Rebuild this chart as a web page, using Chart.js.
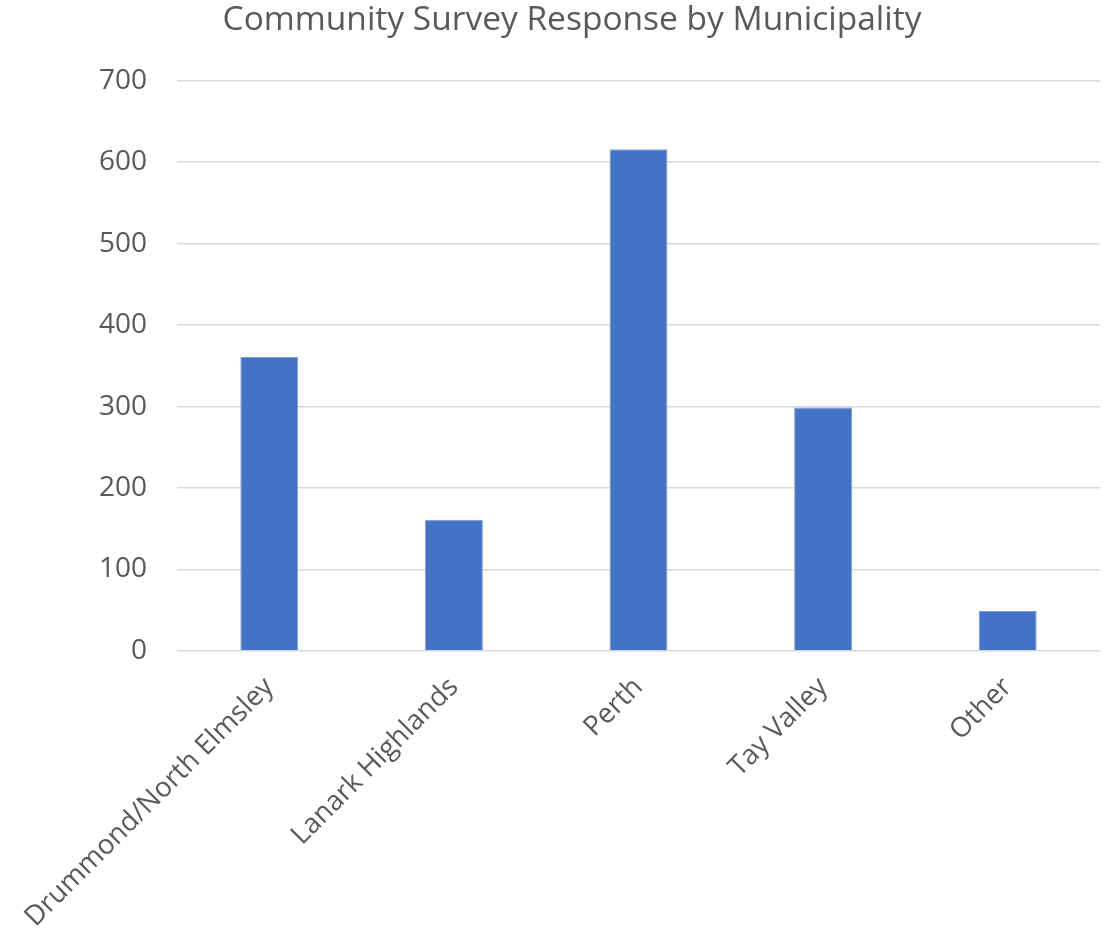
<!DOCTYPE html>
<html>
<head>
<meta charset="utf-8">
<script src="https://cdn.jsdelivr.net/npm/chart.js@4"></script>
<style>
  html, body { margin: 0; padding: 0; background: #fff; }
  #wrap { width: 1107px; height: 935px; }
</style>
</head>
<body>
<div id="wrap"><canvas id="chart"></canvas></div>
<script>
const municipalities = ['Drummond/North Elmsley', 'Lanark Highlands', 'Perth', 'Tay Valley', 'Other'];
const responses = [361, 161, 616, 299, 49];
const titleText = 'Community Survey Response by Municipality';

const textColor = '#595959';
const fontFamily = "'Open Sans', 'Noto Sans', sans-serif";

new Chart(document.getElementById('chart'), {
  type: 'bar',
  data: {
    labels: municipalities,
    datasets: [{
      label: 'Responses',
      data: responses,
      backgroundColor: '#4472c4',
      borderColor: '#7f9fd8',
      borderWidth: 1,
      categoryPercentage: 1,
      barPercentage: 0.314
    }]
  },
  options: {
    responsive: true,
    maintainAspectRatio: false,
    animation: false,
    // left padding shifts the title centre to match; y axis width compensates
    layout: { padding: { left: 44, right: 7, top: 0, bottom: 0 } },
    plugins: {
      legend: { display: false },
      tooltip: { enabled: false },
      title: {
        display: true,
        text: titleText,
        color: textColor,
        font: { family: fontFamily, size: 33.5, weight: 'normal' },
        padding: { top: 0, bottom: 40.5 }
      }
    },
    scales: {
      x: {
        grid: { display: false },
        border: { display: false },
        ticks: {
          color: textColor,
          font: { family: fontFamily, size: 27.5 },
          maxRotation: 45,
          minRotation: 45,
          padding: 12
        },
        afterFit: (scale) => { scale.height = 284; }
      },
      y: {
        min: 0,
        max: 700,
        grid: { color: '#d9d9d9', lineWidth: 1.5, drawTicks: false },
        border: { display: false },
        ticks: {
          stepSize: 100,
          color: textColor,
          font: { family: fontFamily, size: 28 },
          padding: 30
        },
        afterFit: (scale) => { scale.width = 133; }
      }
    }
  }
});
</script>
</body>
</html>
